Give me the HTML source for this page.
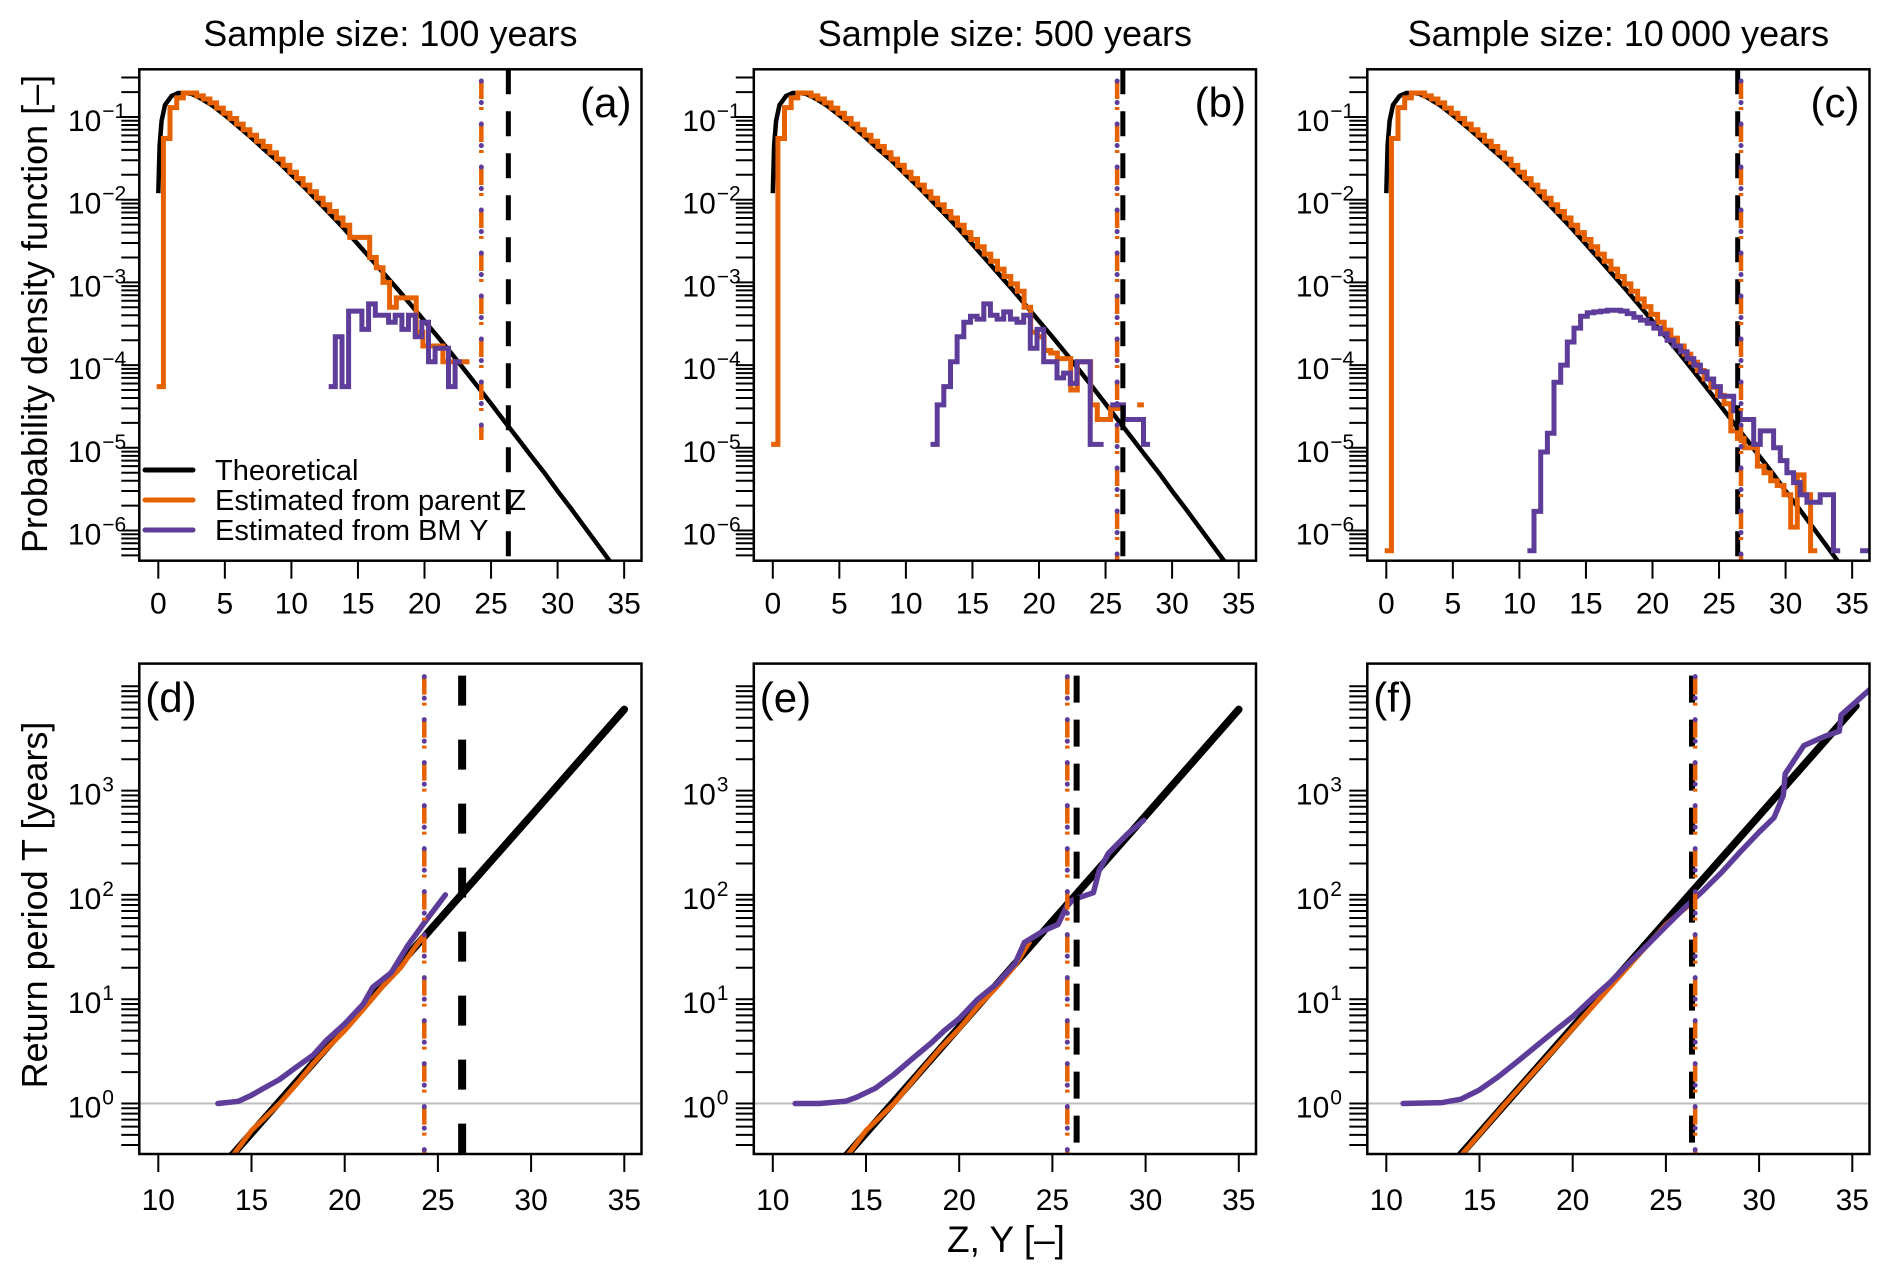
<!DOCTYPE html>
<html><head><meta charset="utf-8">
<style>
html,body{margin:0;padding:0;background:#fff;}
svg{display:block;font-family:"Liberation Sans",Arial,sans-serif;}
</style></head>
<body>
<svg id="fig" width="1892" height="1278" viewBox="0 0 1892 1278" xmlns="http://www.w3.org/2000/svg"></svg>
<script>
// ---------------- DATA ----------------
const panelTitles = ["Sample size: 100 years", "Sample size: 500 years", "Sample size: 10\u2009000 years"];
const topLetters = ["(a)", "(b)", "(c)"];
const botLetters = ["(d)", "(e)", "(f)"];
const topXTicks = [0, 5, 10, 15, 20, 25, 30, 35];
const botXTicks = [10, 15, 20, 25, 30, 35];
const topYTickExp = [-1, -2, -3, -4, -5, -6];
const botYTickExp = [0, 1, 2, 3];

// theoretical density
const theoX = [0, 0.1, 0.25, 0.5, 1, 1.5, 2, 2.5, 3, 4, 5, 6, 7, 8, 9, 10, 11, 12, 13, 14, 15, 16, 17, 18, 19, 20, 21, 22, 23, 24, 25, 26, 27, 28, 29, 30, 31, 32, 33, 34];
const theoPdf = [0.012, 0.045, 0.09, 0.14, 0.18, 0.195, 0.195, 0.19, 0.175, 0.14, 0.105, 0.077, 0.056, 0.04, 0.029, 0.02, 0.014, 0.0095, 0.0065, 0.0044, 0.0029, 0.0019, 0.00125, 0.00082, 0.00053, 0.00034, 0.00022, 0.00014, 0.000088, 0.000055, 0.000034, 0.000021, 0.000013, 0.000008, 0.000005, 0.000003, 0.00000185, 0.00000112, 0.00000068, 0.00000041];

// histogram bins (width 0.5) starting edges
const binWidth = 0.5;
const orangeStart = -0.12;
const orangeA = [5.5e-5, 0.055, 0.13, 0.17, 0.195, 0.195, 0.18, 0.165, 0.148, 0.128, 0.111, 0.096, 0.082, 0.07, 0.06, 0.051, 0.044, 0.037, 0.031, 0.026, 0.0215, 0.018, 0.015, 0.0125, 0.0104, 0.0087, 0.0072, 0.006, 0.0049, 0.0035, 0.0035, 0.0035, 0.002, 0.0015, 0.001, 0.0005, 0.00065, 0.00065, 0.00065, 0.00025, 0.00017, 0.00017, 0.00017, 0.00011, 0.00011, 0.00011, 0.00011];
const orangeB = [1.1e-5, 0.055, 0.13, 0.17, 0.195, 0.195, 0.18, 0.165, 0.148, 0.128, 0.111, 0.096, 0.082, 0.07, 0.06, 0.051, 0.044, 0.037, 0.031, 0.026, 0.0215, 0.018, 0.015, 0.0125, 0.0104, 0.0087, 0.0072, 0.006, 0.0049, 0.004, 0.0033, 0.0027, 0.0022, 0.0018, 0.00145, 0.00118, 0.00096, 0.00078, 0.0005, 0.00025, 0.00022, 0.00015, 0.00014, 0.00012, 0.00012, 0.00005, 0.00011, 0.00011, 0.000033, 0.000022, 0.000022, 0.00003, 0.00003, 0, 0, 0.000033];
const orangeC = [5.7e-7, 0.055, 0.13, 0.17, 0.195, 0.195, 0.18, 0.165, 0.148, 0.128, 0.111, 0.096, 0.082, 0.07, 0.06, 0.051, 0.044, 0.037, 0.031, 0.026, 0.0215, 0.018, 0.015, 0.0125, 0.0104, 0.0087, 0.0072, 0.006, 0.0049, 0.004, 0.0033, 0.0027, 0.0022, 0.0018, 0.00145, 0.00118, 0.00096, 0.00078, 0.00063, 0.00051, 0.00041, 0.00033, 0.000265, 0.000212, 0.00017, 0.000136, 0.000108, 0.000086, 0.000068, 0.000054, 0.000043, 0.000034, 0.000016, 0.000013, 0.00001, 0.00001, 0.000006, 0.000005, 0.000004, 0.0000035, 0.0000027, 0.0000011, 0.0000047, 0.0000027, 5.7e-7];
const purpleStartA = 12.8;
const purpleA = [5.5e-5, 2.2e-4, 5.5e-5, 4.5e-4, 4.5e-4, 2.7e-4, 5.5e-4, 4e-4, 4e-4, 3.3e-4, 4e-4, 2.7e-4, 4e-4, 2.2e-4, 3.3e-4, 1.1e-4, 1.6e-4, 1.6e-4, 5.5e-5, 1.1e-4];
const purpleStartB = 11.85;
const purpleB = [1.1e-5, 3.3e-5, 5.5e-5, 1.1e-4, 2.2e-4, 3.3e-4, 3.9e-4, 3.6e-4, 5.5e-4, 4e-4, 3.6e-4, 4.4e-4, 3.6e-4, 3.3e-4, 4e-4, 1.6e-4, 2.7e-4, 1.1e-4, 1.1e-4, 7e-5, 8e-5, 6e-5, 1.1e-4, 1.1e-4, 1.1e-5, 1.1e-5, 0, 3.3e-5, 3.3e-5, 2.2e-5, 2.2e-5, 2.2e-5, 1.1e-5];
const purpleStartC = 10.6;
const purpleC = [5.7e-7, 1.7e-6, 8.9e-6, 1.5e-5, 6.2e-5, 1e-4, 1.9e-4, 2.8e-4, 3.9e-4, 4.3e-4, 4.4e-4, 4.5e-4, 4.6e-4, 4.6e-4, 4.5e-4, 4.2e-4, 3.8e-4, 3.5e-4, 3.2e-4, 2.8e-4, 2.4e-4, 2.0e-4, 1.7e-4, 1.45e-4, 1.2e-4, 1.0e-4, 8.3e-5, 6.8e-5, 5.5e-5, 4.2e-5, 4.2e-5, 2.8e-5, 2.2e-5, 2.2e-5, 1.1e-5, 1.6e-5, 1.6e-5, 1e-5, 7e-6, 5e-6, 3.8e-6, 2.7e-6, 2.2e-6, 2.2e-6, 2.7e-6, 2.7e-6, 5.7e-7, 0, 0, 0, 5.7e-7, 5.7e-7];

// return period curves
const theoRpX = [13.6, 16.4, 20, 25, 30, 35];
const theoRpT = [0.27, 1, 5.4, 56, 575, 6000];
const theoRpXc = [13.6, 16.4, 20, 25, 30, 35.2];
const theoRpTc = [0.27, 1, 5.4, 56, 575, 6500];
const orangeRpXd = [13.9, 15, 16.5, 17.5, 18.3, 19, 20, 21, 22, 23, 23.8, 24.3];
const orangeRpTd = [0.3, 0.55, 1.0, 1.6, 2.4, 3.3, 5.0, 8.0, 13, 20, 32, 42];
const purpleRpXd = [13.2, 14.3, 15, 15.5, 16.5, 17.5, 18.3, 19, 20, 21, 21.5, 22.5, 23.4, 24.3, 25.4];
const purpleRpTd = [1.0, 1.05, 1.2, 1.35, 1.7, 2.3, 2.9, 4.0, 5.8, 9, 13, 18, 33, 55, 100];
const orangeRpXe = [13.9, 15, 16.5, 18, 19, 20, 21, 22, 23, 23.8];
const orangeRpTe = [0.3, 0.55, 1.0, 2.1, 3.4, 5.2, 8.5, 13, 21, 36];
const purpleRpXe = [11.2, 12.5, 13.9, 14.5, 15.5, 16.5, 17.5, 18.5, 19.2, 20, 21, 22, 23, 23.5, 24.5, 25.3, 25.8, 26.1, 27.2, 27.5, 28, 29, 29.9];
const purpleRpTe = [1.0, 1.0, 1.05, 1.15, 1.4, 1.9, 2.7, 3.8, 5, 6.5, 10, 14, 22, 35, 45, 52, 80, 90, 105, 170, 250, 380, 520];
const orangeRpXf = [13.9, 16.4, 20, 25, 26.6];
const orangeRpTf = [0.3, 1.0, 5.2, 52, 90];
const purpleRpXf = [10.9, 13, 14, 15, 16, 17, 18, 19, 20, 21, 22, 23, 24, 25, 26, 27, 28, 29, 30, 30.8, 31.3, 31.4, 32.4, 33.5, 34.3, 34.4, 36];
const purpleRpTf = [1.0, 1.02, 1.1, 1.35, 1.8, 2.5, 3.5, 4.9, 6.8, 10, 14.5, 22, 33, 50, 75, 110, 165, 260, 400, 550, 900, 1450, 2700, 3300, 3700, 5300, 9500];

// vertical reference lines
const trueQuantile = [26.3, 26.3, 26.4];
const estQuantileTop = [24.27, 25.87, 26.65];
const estQuantileBot = [24.27, 25.8, 26.57];

// ---------------- LAYOUT ----------------
const NS = "http://www.w3.org/2000/svg";
const svg = document.getElementById("fig");
const OFFS = [0, 614.5, 1228];
const BOXL = 139.3, BOXR = 641.5;
const TOP = {t: 69.3, b: 560.7}, BOT = {t: 663.6, b: 1154};
const ORANGE = "#e66101", PURPLE = "#5e3c99";

function el(tag, attrs, parent) {
  const e = document.createElementNS(NS, tag);
  for (const k in attrs) e.setAttribute(k, attrs[k]);
  (parent || svg).appendChild(e);
  return e;
}
function xTop(p, v) { return OFFS[p] + 158.3 + v * 13.31; }
function yTop(v) { return 117 + (-1 - Math.log10(v)) * 82.7; }
function xBot(p, v) { return OFFS[p] + 158.3 + (v - 10) * 18.64; }
function yBot(v) { return 1103.5 - Math.log10(v) * 104.3; }

const defs = el("defs", {});
for (let p = 0; p < 3; p++) {
  const c1 = el("clipPath", {id: "ct" + p}, defs);
  el("rect", {x: OFFS[p] + BOXL, y: TOP.t, width: BOXR - BOXL, height: TOP.b - TOP.t}, c1);
  const c2 = el("clipPath", {id: "cb" + p}, defs);
  el("rect", {x: OFFS[p] + BOXL, y: BOT.t, width: BOXR - BOXL, height: BOT.b - BOT.t}, c2);
}

function stepPath(p, start, vals) {
  let d = "", prevOk = false;
  for (let i = 0; i < vals.length; i++) {
    const x0 = xTop(p, start + i * binWidth), x1 = xTop(p, start + (i + 1) * binWidth);
    if (vals[i] > 0) {
      const y = yTop(vals[i]).toFixed(1);
      if (prevOk) d += ` L${x0.toFixed(1)},${y}`; else d += ` M${x0.toFixed(1)},${y}`;
      d += ` L${x1.toFixed(1)},${y}`;
      prevOk = true;
    } else prevOk = false;
  }
  return d;
}
function linePath(xs, ys, fx, fy) {
  return xs.map((x, i) => (i ? "L" : "M") + fx(x).toFixed(1) + "," + fy(ys[i]).toFixed(1)).join(" ");
}

const orangeTop = [orangeA, orangeB, orangeC];
const purpleTop = [purpleA, purpleB, purpleC];
const purpleStarts = [purpleStartA, purpleStartB, purpleStartC];
const dotTopY = [[81, 440], [81, 560], [81, 560]];
const rpSets = [
  [theoRpX, theoRpT, orangeRpXd, orangeRpTd, purpleRpXd, purpleRpTd],
  [theoRpX, theoRpT, orangeRpXe, orangeRpTe, purpleRpXe, purpleRpTe],
  [theoRpXc, theoRpTc, orangeRpXf, orangeRpTf, purpleRpXf, purpleRpTf]
];

function vline(g, x, y1, y2, stroke, w, dash, cap, name) {
  const l = el("line", {x1: x, x2: x, y1: y1, y2: y2, stroke: stroke, "stroke-width": w, "stroke-dasharray": dash, "stroke-linecap": cap}, g);
  
  
}

const TICKFS = 30, SUPFS = 21;

for (let p = 0; p < 3; p++) {
  const L = OFFS[p] + BOXL, R = OFFS[p] + BOXR;
  const gt = el("g", {});
  
  
  const title = el("text", {x: (L + R) / 2, y: 46, "text-anchor": "middle", "font-size": 36}, gt);
  title.textContent = panelTitles[p];
  
  

  const clipT = el("g", {"clip-path": `url(#ct${p})`}, gt);
  const th = el("path", {d: linePath(theoX, theoPdf, v => xTop(p, v), yTop), fill: "none", stroke: "#000", "stroke-width": 4.5}, clipT);
  
  
  const oh = el("path", {d: stepPath(p, orangeStart, orangeTop[p]), fill: "none", stroke: ORANGE, "stroke-width": 5}, clipT);
  
  
  const ph = el("path", {d: stepPath(p, purpleStarts[p], purpleTop[p]), fill: "none", stroke: PURPLE, "stroke-width": 5}, clipT);
  
  
  vline(clipT, xTop(p, trueQuantile[p]), TOP.t, TOP.b, "#000", 5, "25 17", "butt", "true-quantile-line");
  vline(clipT, xTop(p, estQuantileTop[p]), dotTopY[p][0], dotTopY[p][1], ORANGE, 4.5, "18 8 3 14", "butt", "estimated-quantile-line");
  vline(clipT, xTop(p, estQuantileTop[p]), dotTopY[p][0], dotTopY[p][1], PURPLE, 5, "0.1 21.4", "round", "estimated-quantile-dots");

  const bx = el("rect", {x: L, y: TOP.t, width: R - L, height: TOP.b - TOP.t, fill: "none", stroke: "#000", "stroke-width": 2.5}, gt);
  
  
  topXTicks.forEach(t => {
    const x = xTop(p, t);
    el("line", {x1: x, x2: x, y1: TOP.b + 1, y2: TOP.b + 18, stroke: "#000", "stroke-width": 2}, gt);
    const tx = el("text", {x: x, y: TOP.b + 53, "text-anchor": "middle", "font-size": TICKFS}, gt);
    tx.textContent = t;
    
    
  });
  for (let d = -7; d <= 0; d++) for (let m = 1; m <= 9; m++) {
    const v = m * Math.pow(10, d), y = yTop(v);
    if (y < TOP.t - 0.5 || y > TOP.b + 0.5) continue;
    el("line", {x1: L - 18, x2: L, y1: y, y2: y, stroke: "#000", "stroke-width": 2}, gt);
  }
  topYTickExp.forEach(e => {
    const y = yTop(Math.pow(10, e));
    const tx = el("text", {x: L - 38, y: y + 14, "text-anchor": "end", "font-size": TICKFS}, gt);
    tx.textContent = "10";
    
    
    const sp = el("text", {x: L - 37, y: y + 1, "text-anchor": "start", "font-size": SUPFS}, gt);
    sp.textContent = "\u2212" + (-e);
  });
  const lt = el("text", {x: R - 10, y: 117, "text-anchor": "end", "font-size": 42}, gt);
  lt.textContent = topLetters[p];
  
  

  const gb = el("g", {});
  
  
  const clipB = el("g", {"clip-path": `url(#cb${p})`}, gb);
  const gl = el("line", {x1: L, x2: R, y1: yBot(1), y2: yBot(1), stroke: "#bdbdbd", "stroke-width": 2}, clipB);
  
  
  const s = rpSets[p];
  const fx = v => xBot(p, v);
  const tl = el("path", {d: linePath(s[0], s[1], fx, yBot), fill: "none", stroke: "#000", "stroke-width": 7.5, "stroke-linecap": "round"}, clipB);
  
  
  const ol = el("path", {d: linePath(s[2], s[3], fx, yBot), fill: "none", stroke: ORANGE, "stroke-width": 5, "stroke-linejoin": "round"}, clipB);
  
  
  const pl = el("path", {d: linePath(s[4], s[5], fx, yBot), fill: "none", stroke: PURPLE, "stroke-width": 5.5, "stroke-linejoin": "round", "stroke-linecap": "round"}, clipB);
  
  
  vline(clipB, xBot(p, trueQuantile[p]), BOT.t + 12, BOT.b, "#000", p === 0 ? 8 : 6, p === 0 ? "30 34" : "27 17", "butt", "true-quantile-line");
  vline(clipB, xBot(p, estQuantileBot[p]), BOT.t + 13, BOT.b, ORANGE, 4.5, "18 8 3 14", "butt", "estimated-quantile-line");
  vline(clipB, xBot(p, estQuantileBot[p]), BOT.t + 13, BOT.b, PURPLE, 5, "0.1 21.4", "round", "estimated-quantile-dots");

  const bx2 = el("rect", {x: L, y: BOT.t, width: R - L, height: BOT.b - BOT.t, fill: "none", stroke: "#000", "stroke-width": 2.5}, gb);
  
  
  botXTicks.forEach(t => {
    const x = xBot(p, t);
    el("line", {x1: x, x2: x, y1: BOT.b + 1, y2: BOT.b + 18, stroke: "#000", "stroke-width": 2}, gb);
    const tx = el("text", {x: x, y: BOT.b + 56, "text-anchor": "middle", "font-size": TICKFS}, gb);
    tx.textContent = t;
    
    
  });
  for (let d = -1; d <= 4; d++) for (let m = 1; m <= 9; m++) {
    const v = m * Math.pow(10, d), y = yBot(v);
    if (y < BOT.t - 0.5 || y > BOT.b + 0.5) continue;
    el("line", {x1: L - 18, x2: L, y1: y, y2: y, stroke: "#000", "stroke-width": 2}, gb);
  }
  botYTickExp.forEach(e => {
    const y = yBot(Math.pow(10, e));
    const tx = el("text", {x: L - 38, y: y + 14, "text-anchor": "end", "font-size": TICKFS}, gb);
    tx.textContent = "10";
    
    
    const sp = el("text", {x: L - 37, y: y + 1, "text-anchor": "start", "font-size": SUPFS}, gb);
    sp.textContent = String(e);
  });
  const lb = el("text", {x: L + 6, y: 712, "text-anchor": "start", "font-size": 42}, gb);
  lb.textContent = botLetters[p];
  
  
}

const yt1 = el("text", {x: 0, y: 0, "text-anchor": "middle", "font-size": 36, transform: "translate(47,314) rotate(-90)"});
yt1.textContent = "Probability density function [\u2013]";


const yt2 = el("text", {x: 0, y: 0, "text-anchor": "middle", "font-size": 36, transform: "translate(47,905) rotate(-90)"});
yt2.textContent = "Return period T [years]";


const xt = el("text", {x: 1006, y: 1252, "text-anchor": "middle", "font-size": 37});
xt.textContent = "Z, Y [\u2013]";



const legendLabels = ["Theoretical", "Estimated from parent Z", "Estimated from BM Y"];
const legendColors = ["#000", ORANGE, PURPLE];
const lg = el("g", {});


legendLabels.forEach((lab, i) => {
  const y = 470 + i * 30;
  const ln = el("line", {x1: 145, x2: 193, y1: y, y2: y, stroke: legendColors[i], "stroke-width": 5, "stroke-linecap": "round"}, lg);
  
  
  const t = el("text", {x: 215, y: y + 10, "font-size": 29}, lg);
  t.textContent = lab;
  
  
});
</script>
</body></html>
